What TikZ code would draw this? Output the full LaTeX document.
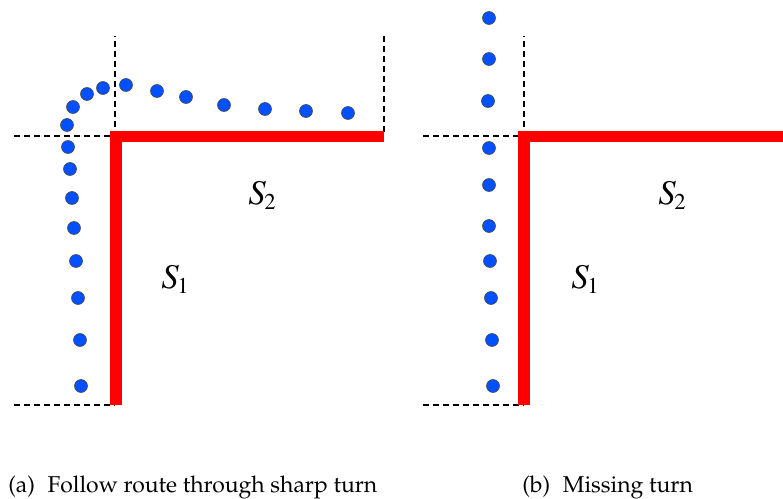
\documentclass[tikz,border=0pt]{standalone}
\usepackage[T1]{fontenc}
\begin{document}
\begin{tikzpicture}[x=0.75pt,y=-0.75pt,
  guide/.style={black,line width=1.6pt,dash pattern=on 4.5pt off 3pt},
  wall/.style={red,line width=8.5pt,line join=miter},
  dot/.style={fill={rgb,255:red,0;green,80;blue,255},draw=black!70,line width=0.5pt},
  region/.style={font=\fontsize{26}{30}\fontfamily{ptm}\selectfont},
  caption/.style={font=\fontfamily{ppl}\fontsize{17.2}{20}\selectfont,anchor=base west,inner sep=0pt}]
\useasboundingbox (0,0) rectangle (783,499);
% ---- panel (a)
\draw[guide] (14,136) -- (115,136) -- (115,36);
\draw[guide] (384,36) -- (384,136);
\draw[guide] (14,405) -- (115,405);
\draw[wall] (116,405) -- (116,136.5) -- (384,136.5);
\foreach \x/\y in {68/147,67/125,73/107,87/94,103/88,126/85,157/91,186/97,224/105,265/109,306/111,348/113,
  70/169,72/198,74/228,76/261,78/298,80/340,81/386}
  \filldraw[dot] (\x,\y) circle (6.5);
\node[region] (s2a) at (262,195) {\itshape S\kern-1pt\raisebox{-0.35ex}{\upshape\fontsize{17}{20}\selectfont 2}};
\node[region] (s1a) at (175,279) {\itshape S\kern-1pt\raisebox{-0.35ex}{\upshape\fontsize{17}{20}\selectfont 1}};
\node[caption] (capa) at (8,492) {(a)\hspace{0.55em}Follow route through sharp turn};
% ---- panel (b)
\draw[guide] (423,136) -- (524,136) -- (524,36);
\draw[guide] (423,405) -- (524,405);
\draw[wall] (524,405) -- (524,136.5) -- (783,136.5);
\foreach \x/\y in {489/18,489/59,488/101,489/148,489/185,489/226,490/261,491/298,492/340,493/386}
  \filldraw[dot] (\x,\y) circle (6.5);
\node[region] (s2b) at (672,195) {\itshape S\kern-1pt\raisebox{-0.35ex}{\upshape\fontsize{17}{20}\selectfont 2}};
\node[region] (s1b) at (585,279) {\itshape S\kern-1pt\raisebox{-0.35ex}{\upshape\fontsize{17}{20}\selectfont 1}};
\node[caption] (capb) at (522,492) {(b)\hspace{0.55em}Missing turn};
\end{tikzpicture}
\end{document}
